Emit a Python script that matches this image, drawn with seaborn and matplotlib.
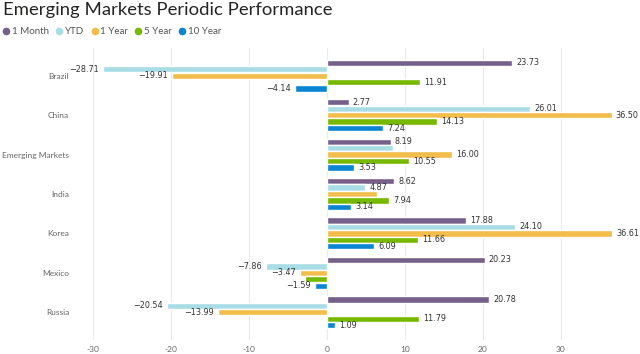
import matplotlib
matplotlib.use("Agg")
import matplotlib.pyplot as plt
import seaborn as sns
import pandas as pd
from matplotlib.lines import Line2D

markets = ["Brazil", "China", "Emerging Markets", "India", "Korea", "Mexico", "Russia"]
periods = ["1 Month", "YTD", "1 Year", "5 Year", "10 Year"]
one_month = [23.73, 2.77, 8.19, 8.62, 17.88, 20.23, 20.78]
ytd = [-28.71, 26.01, 8.43, 4.87, 24.10, -7.86, -20.54]
one_year = [-19.91, 36.50, 16.00, 6.44, 36.61, -3.47, -13.99]
five_year = [11.91, 14.13, 10.55, 7.94, 11.66, -2.77, 11.79]
ten_year = [-4.14, 7.24, 3.53, 3.14, 6.09, -1.59, 1.09]
# labels hidden in the reference (overlapping)
hidden = {("Emerging Markets", "YTD"), ("India", "1 Year"), ("Mexico", "5 Year")}
colors = ["#76608A", "#A9DDE5", "#F2BD4B", "#77B900", "#0B84D1"]

series = [one_month, ytd, one_year, five_year, ten_year]
rows = []
for p, vals in zip(periods, series):
    for m, v in zip(markets, vals):
        rows.append({"Market": m, "Period": p, "Value": v})
df = pd.DataFrame(rows)

sns.set_theme(style="white")
plt.rcParams["font.family"] = ["Lato", "DejaVu Sans"]

fig = plt.figure(figsize=(6.4, 3.54), dpi=100)
ax = fig.add_axes([0.121, 1 - 340 / 354, 0.986 - 0.121, (340 - 48) / 354])

sns.barplot(data=df, y="Market", x="Value", hue="Period", order=markets,
            hue_order=periods, palette=colors, orient="h", width=0.82, gap=0.05,
            ax=ax, legend=False, saturation=1)

for cont, p, vals in zip(ax.containers, periods, series):
    labels = []
    for m, v in zip(markets, vals):
        labels.append("" if (m, p) in hidden else f"{v:.2f}".replace("-", "\u2212"))
    ax.bar_label(cont, labels=labels, padding=3, fontsize=6.5, color="#333333",
                 fontstretch="condensed", family="DejaVu Sans")

ax.set_xlim(-32, 39)
ax.set_ylim(6.7, -0.7)
ax.set_xticks([-30, -20, -10, 0, 10, 20, 30])
ax.set_xticklabels(["-30", "-20", "-10", "0", "10", "20", "30"])
ax.grid(axis="x", color="#EAEAEA", linewidth=0.8)
ax.set_axisbelow(True)
for s in ax.spines.values():
    s.set_visible(False)
ax.tick_params(axis="both", length=0, labelsize=6, colors="#666666", pad=6)
ax.tick_params(axis="x", pad=4)
ax.set_xlabel("")
ax.set_ylabel("")

fig.text(0.004, 0.995, "Emerging Markets Periodic Performance", fontsize=13.3,
         color="#252423", va="top", ha="left")

handles = [Line2D([], [], marker="o", linestyle="", markersize=4.5, color=c) for c in colors]
fig.legend(handles, periods, loc="center left", bbox_to_anchor=(-0.004, 1 - 32 / 354),
           ncol=5, frameon=False, fontsize=7, handletextpad=0.05, columnspacing=0.6,
           handlelength=1.0, labelcolor="#555555", borderaxespad=0)

fig.savefig("out.png", dpi=100)
